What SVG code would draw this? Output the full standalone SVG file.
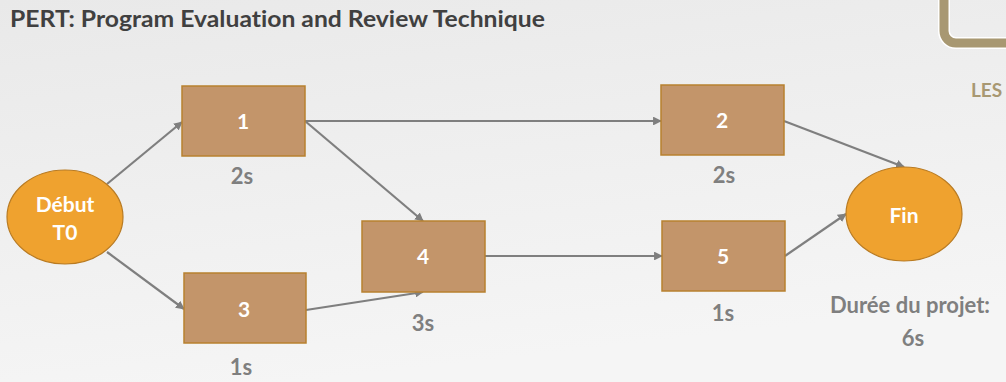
<svg xmlns="http://www.w3.org/2000/svg" width="1006" height="382" viewBox="0 0 1006 382">
<defs>
<linearGradient id="bg" x1="0" y1="0" x2="0.3" y2="1">
<stop offset="0" stop-color="#e9e9e9"/>
<stop offset="1" stop-color="#f5f5f5"/>
</linearGradient>
<marker id="ah" viewBox="0 0 10 10" refX="9" refY="5" markerWidth="4" markerHeight="4" orient="auto" markerUnits="strokeWidth">
<path d="M0,0 L10,5 L0,10 z" fill="#7f7f7f"/>
</marker>
<style>
text{font-variant-ligatures:none}
.box{fill:#c3956a;stroke:#b8812f;stroke-width:1.5}
.ell{fill:#efa22f;stroke:#b97b22;stroke-width:1.2}
.nt{font-family:Lato,"Liberation Sans",sans-serif;font-weight:bold;font-size:21px;fill:#ffffff;text-anchor:middle}
.lbl{font-family:Lato,"Liberation Sans",sans-serif;font-weight:bold;font-size:22px;fill:#7f7f7f;text-anchor:middle}
.con{stroke:#7f7f7f;stroke-width:2.2;fill:none;marker-end:url(#ah)}
</style>
</defs>
<rect width="1006" height="382" fill="url(#bg)"/>
<text x="10" y="27" font-family="Lato, Liberation Sans, sans-serif" font-weight="bold" font-size="22" fill="#404040" textLength="535" lengthAdjust="spacingAndGlyphs">PERT: Program Evaluation and Review Technique</text>
<rect x="944" y="-20" width="80" height="63" rx="12" fill="none" stroke="#ffffff" stroke-width="12"/>
<rect x="944" y="-20" width="80" height="63" rx="12" fill="none" stroke="#a89872" stroke-width="9"/>
<text x="971" y="97" font-family="Lato, Liberation Sans, sans-serif" font-weight="bold" font-size="19" fill="#a89872">LES</text>
<g id="connectors">
<line class="con" x1="107" y1="184" x2="182" y2="122"/>
<line class="con" x1="107" y1="252" x2="184" y2="309"/>
<line class="con" x1="305" y1="121" x2="661" y2="121"/>
<line class="con" x1="305" y1="121" x2="423" y2="221"/>
<line class="con" x1="306" y1="310" x2="423" y2="292"/>
<line class="con" x1="485" y1="256" x2="662" y2="256"/>
<line class="con" x1="784" y1="121" x2="904" y2="167"/>
<line class="con" x1="785" y1="256" x2="846" y2="214"/>
</g>
<g id="debut">
<ellipse class="ell" cx="65" cy="217" rx="58" ry="47"/>
<text class="nt" x="65" y="212">Début</text>
<text class="nt" x="65" y="240">T0</text>
</g>
<g id="t1">
<rect class="box" x="182" y="86" width="123" height="70"/>
<text class="nt" x="243" y="129">1</text>
<text class="lbl" x="242" y="184">2s</text>
</g>
<g id="t3">
<rect class="box" x="184" y="273" width="122" height="70"/>
<text class="nt" x="244" y="317">3</text>
<text class="lbl" x="241" y="375">1s</text>
</g>
<g id="t4">
<rect class="box" x="362" y="221" width="123" height="71"/>
<text class="nt" x="423" y="264">4</text>
<text class="lbl" x="423" y="331">3s</text>
</g>
<g id="t2">
<rect class="box" x="661" y="85" width="123" height="70"/>
<text class="nt" x="722" y="128">2</text>
<text class="lbl" x="724" y="183">2s</text>
</g>
<g id="t5">
<rect class="box" x="662" y="221" width="123" height="70"/>
<text class="nt" x="723" y="264">5</text>
<text class="lbl" x="723" y="321">1s</text>
</g>
<g id="fin">
<ellipse class="ell" cx="904" cy="214" rx="58" ry="47"/>
<text class="nt" x="904" y="223">Fin</text>
</g>
<g id="duree">
<text class="lbl" x="910" y="313">Durée du projet:</text>
<text class="lbl" x="913" y="346">6s</text>
</g>
</svg>
